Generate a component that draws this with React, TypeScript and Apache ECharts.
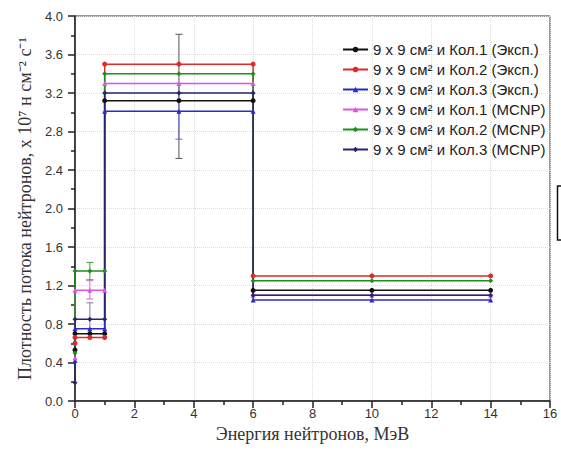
import React, { useEffect, useRef } from "react";
import * as echarts from "echarts";

// Series values: [value at E=0 start, bin 0–1 MeV, bin 1–6 MeV, bin 6–14 MeV]
const seriesNames = [
  "9 x 9 см² и Кол.1 (Эксп.)",
  "9 x 9 см² и Кол.2 (Эксп.)",
  "9 x 9 см² и Кол.3 (Эксп.)",
  "9 x 9 см² и Кол.1 (MCNP)",
  "9 x 9 см² и Кол.2 (MCNP)",
  "9 x 9 см² и Кол.3 (MCNP)",
];
const kol1Exp = [0.53, 0.7, 3.12, 1.15];
const kol2Exp = [0.6, 0.66, 3.5, 1.3];
const kol3Exp = [0.42, 0.75, 3.01, 1.05];
const kol1Mcnp = [0.45, 1.15, 3.3, 1.1];
const kol2Mcnp = [0.5, 1.35, 3.4, 1.25];
const kol3Mcnp = [0.19, 0.85, 3.2, 1.1];
const allValues = [kol1Exp, kol2Exp, kol3Exp, kol1Mcnp, kol2Mcnp, kol3Mcnp];

// x positions of points in each energy bin (MeV)
const binPointsX = [
  [0, 0.5, 1],
  [1, 3.5, 6],
  [6, 10, 14],
];

// error bars
const errX = [3.5, 3.5, 0.5, 0.5, 0.5];
const errLow = [2.52, 2.72, 1.26, 1.06, 0.7];
const errHigh = [3.81, 3.3, 1.44, 1.25, 1.02];
const errColors = ["#555555", "#6a6acc", "#3f9a3f", "#cc70cc", "#7a7aa0"];

const colors = ["#111111", "#e02a2a", "#2a2ad0", "#dd55dd", "#1c901c", "#262670"];
const symbols = ["circle", "circle", "triangle", "triangle", "diamond", "diamond"];

const xTicks = { min: 0, max: 16, interval: 2 };
const yTicks = { min: 0, max: 4, interval: 0.4 };

function buildData(v: number[]) {
  const pts: number[][] = [[0, v[0]]];
  binPointsX.forEach((xs, i) => {
    xs.forEach((x) => pts.push([x, v[i + 1]]));
  });
  return pts;
}

export default function App() {
  const ref = useRef<HTMLDivElement>(null);
  useEffect(() => {
    if (!ref.current) return;
    const chart = echarts.init(ref.current, null, { renderer: "svg" });
    const sans = "'Liberation Sans', Arial, sans-serif";
    const serif = "'Liberation Serif', 'Times New Roman', serif";
    const lineSeries = allValues.map((v, i) => ({
      name: seriesNames[i],
      type: "line",
      data: buildData(v),
      symbol: symbols[i],
      symbolSize: 5,
      showSymbol: true,
      color: colors[i],
      lineStyle: { width: 1.5, color: colors[i] },
      itemStyle: { color: colors[i] },
      z: 3,
    }));
    const errData = errX.map((x, i) => [x, errLow[i], errHigh[i]]);
    chart.setOption({
      animation: false,
      backgroundColor: "#ffffff",
      grid: {
        left: 75,
        right: 11,
        top: 16,
        bottom: 58,
        show: true,
        borderColor: "#333",
        borderWidth: 1,
      },
      legend: {
        data: seriesNames,
        orient: "vertical",
        left: 337,
        top: 37,
        itemWidth: 25,
        itemHeight: 7,
        itemGap: 5,
        textStyle: { fontFamily: sans, fontSize: 15, color: "#222" },
      },
      xAxis: {
        type: "value",
        min: xTicks.min,
        max: xTicks.max,
        interval: xTicks.interval,
        name: "Энергия нейтронов, МэВ",
        nameLocation: "middle",
        nameGap: 21,
        nameTextStyle: { fontFamily: serif, fontSize: 18, color: "#333" },
        axisLine: { lineStyle: { color: "#222", width: 1.5 } },
        axisTick: { show: true, length: 7, lineStyle: { color: "#222", width: 1.5 } },
        minorTick: { show: true, splitNumber: 2, length: 4, lineStyle: { color: "#222", width: 1.5 } },
        axisLabel: { fontFamily: sans, fontSize: 13, color: "#333", margin: 6 },
        splitLine: { show: true, lineStyle: { type: "dotted", color: "#dcdcdc" } },
      },
      yAxis: {
        type: "value",
        min: yTicks.min,
        max: yTicks.max,
        interval: yTicks.interval,
        name: "Плотность потока нейтронов, x 10⁷ н см⁻² с⁻¹",
        nameLocation: "middle",
        nameGap: 39,
        nameTextStyle: { fontFamily: serif, fontSize: 18, color: "#333" },
        axisLine: { show: true, lineStyle: { color: "#222", width: 1.5 } },
        axisTick: { show: true, length: 7, lineStyle: { color: "#222", width: 1.5 } },
        minorTick: { show: true, splitNumber: 2, length: 4, lineStyle: { color: "#222", width: 1.5 } },
        axisLabel: {
          fontFamily: sans,
          fontSize: 13,
          color: "#333",
          margin: 12,
          formatter: (v: number) => v.toFixed(1),
        },
        splitLine: { show: true, lineStyle: { type: "dotted", color: "#dcdcdc" } },
      },
      graphic: [
        {
          type: "rect",
          shape: { x: 557.5, y: 186, width: 20, height: 54 },
          style: { fill: "#fff", stroke: "#111", lineWidth: 1.5 },
        },
      ],
      series: [
        {
          type: "custom",
          z: 2,
          silent: true,
          data: errData,
          renderItem: (params: any, api: any) => {
            const x = api.value(0);
            const lo = api.value(1);
            const hi = api.value(2);
            const pHi = api.coord([x, hi]);
            const pLo = api.coord([x, lo]);
            const c = errColors[params.dataIndex];
            const w = 3.5;
            const st = { stroke: c, lineWidth: 1 };
            return {
              type: "group",
              children: [
                { type: "line", shape: { x1: pHi[0], y1: pHi[1], x2: pLo[0], y2: pLo[1] }, style: st },
                { type: "line", shape: { x1: pHi[0] - w, y1: pHi[1], x2: pHi[0] + w, y2: pHi[1] }, style: st },
                { type: "line", shape: { x1: pLo[0] - w, y1: pLo[1], x2: pLo[0] + w, y2: pLo[1] }, style: st },
              ],
            };
          },
        },
        ...lineSeries,
      ],
    });
    return () => chart.dispose();
  }, []);
  return (
    <div
      ref={ref}
      style={{ position: "absolute", left: 0, top: 0, width: 561, height: 459, background: "#fff" }}
    />
  );
}
